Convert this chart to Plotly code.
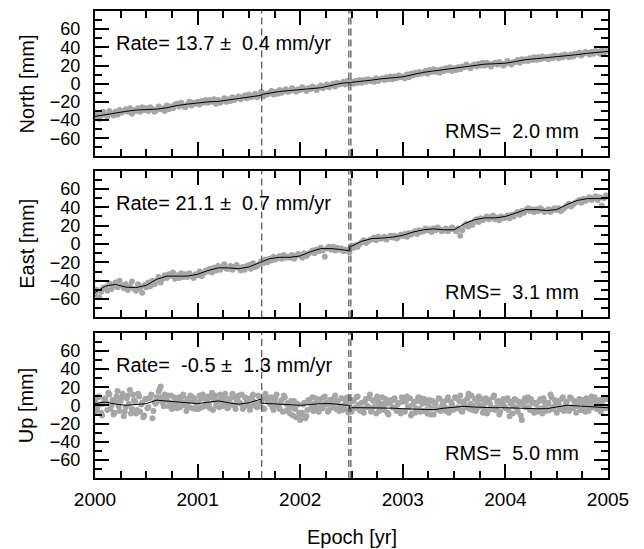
import plotly.graph_objects as go

# ---------------- data ----------------
obs_start = 2000.0
obs_step = 0.02
north_obs = [
 -37,-33,-39,-35,-31, -34,-36,-30,-33,-35, -31,-34,-29,-32,-30, -28,-31,-27,-33,-29, -30,-27,-31,-26,-29,
 -27,-30,-26,-28,-31, -29,-25,-28,-27,-30, -24,-28,-25,-27,-23, -22,-25,-21,-24,-26, -23,-20,-24,-21,-22,
 -20,-23,-19,-21,-18, -21,-18,-20,-17,-22, -18,-21,-19,-16,-20, -17,-19,-15,-18,-16, -14,-17,-15,-13,-16,
 -12,-15,-14,-11,-15, -13,-9,-14,-11,-12, -10,-8,-12,-9,-11, -7,-10,-8,-6,-9, -8,-5,-7,-9,-6,
 -7,-4,-6,-8,-5, -6,-3,-5,-7,-4, -2,-5,-3,-1,-4, -2,0,-3,1,-1, 0,2,-1,3,1,
 2,0,3,1,4, 1,4,2,5,3, 4,2,6,3,5, 6,4,7,5,8, 5,8,6,9,7,
 8,6,10,7,11, 9,12,10,13,11, 12,14,11,15,13, 16,13,15,12,16, 14,17,15,18,14,
 17,15,18,16,19, 18,21,19,17,20, 21,19,22,20,23, 20,23,21,19,22, 23,21,24,22,20,
 22,25,23,21,24, 24,26,23,27,25, 27,25,28,26,29, 26,29,27,30,28, 29,27,30,28,31,
 30,28,31,29,32, 31,29,32,30,33, 32,34,31,33,35, 34,32,35,33,36, 35,33,37,34,36,
]
east_obs = [
 -55,-50,-58,-52,-48, -47,-51,-43,-49,-45, -42,-47,-40,-45,-48, -44,-50,-46,-41,-49, -51,-44,-48,-53,-45,
 -47,-42,-46,-40,-44, -40,-36,-42,-38,-34, -37,-33,-35,-31,-38, -34,-37,-32,-36,-33, -36,-32,-35,-37,-33,
 -34,-30,-35,-32,-29, -30,-27,-31,-26,-29, -24,-28,-25,-22,-27, -27,-24,-28,-25,-23, -26,-29,-25,-28,-24,
 -23,-27,-21,-25,-24, -22,-19,-21,-17,-20, -16,-18,-14,-17,-15, -13,-16,-12,-15,-14, -15,-12,-16,-13,-11,
 -12,-15,-10,-13,-11, -9,-7,-10,-6,-8, -4,-7,-14,-5,-3, -6,-3,-7,-4,-6, -5,-8,-6,-7,-9,
 -2,-4,-1,-3,0, 2,4,1,3,5, 5,7,4,8,6, 6,8,5,7,9, 7,9,6,8,10,
 9,11,8,12,10, 12,14,11,15,13, 14,17,15,16,13, 17,15,18,16,14, 15,17,14,16,18,
 16,14,17,9,15, 20,22,19,23,21, 25,27,24,28,26, 28,30,27,29,31, 27,29,26,30,28,
 29,31,28,32,30, 33,35,32,36,34, 37,39,36,38,35, 38,36,39,37,35, 36,38,35,37,39,
 37,39,36,38,40, 42,44,41,43,45, 46,48,45,49,47, 49,51,48,50,52, 48,51,42,50,53,
]
up_obs = [
 5,-3,10,-8,2, 8,-5,12,0,-10, 4,16,-6,9,-12, -2,11,17,-4,6, -9,13,-7,3,-11,
 7,-2,10,-14,4, 9,15,21,3,12, 6,-1,11,2,8, -3,9,4,12,0, 7,-2,10,5,-4,
 3,11,-2,8,1, 10,-3,14,6,0, 5,12,-1,9,3, -2,8,13,0,6, 11,2,-4,9,5,
 7,-1,12,3,-2, 10,4,-3,13,6, 2,9,-5,7,0, -4,6,11,-6,3, -9,-2,5,-13,1,
 -16,-8,3,-12,6, -4,9,-1,4,-7, 7,-3,10,1,-5, 6,-2,11,3,-6, 8,0,-4,9,2,
 -7,5,-2,10,-5, 3,-8,7,-1,12, -3,6,-9,4,-1, 9,-5,2,-10,6, -2,8,-6,3,-9,
 4,-7,10,-2,-11, 1,-8,5,-4,8, -6,3,-9,6,-3, -10,2,-5,7,-1, 4,-6,9,-3,1,
 -4,8,-2,11,-7, 5,-1,13,2,-5, 7,-4,10,0,-8, 3,-9,6,-2,9, -5,4,-10,1,7,
 -3,8,-12,4,-1, 6,-7,2,-16,5, -2,9,-5,3,-8, 1,-4,7,-9,4, -6,3,12,-2,6,
 -8,1,-4,9,-2, 4,-6,8,-3,0, -1,7,-5,3,-7, 2,-3,10,-1,5, -4,6,-2,8,-3,
]
# second (interleaved) set of Up daily solutions, half a step later
up_obs_b = [
 -6,9,1,-11,7, 3,14,-4,6,-8, 10,-1,5,13,-7, 8,2,-9,12,4, -5,10,1,-13,7,
 -3,8,12,-6,2, 5,18,9,-1,7, 11,3,-4,9,1, 6,-2,10,3,-6, 4,11,-3,8,2,
 -4,7,12,-1,5, 2,9,-5,11,4, -2,8,3,13,-3, 7,1,10,-4,6, 3,12,-2,8,0,
 -5,9,4,-1,11, 2,7,-4,10,5, 8,-2,4,12,-1, 3,-7,9,1,-3, 5,-11,-4,2,-8,
 -10,1,-14,-5,4, 2,-6,8,-3,5, -1,9,3,-7,6, 1,8,-4,5,-2, -5,7,3,-8,4,
 6,-3,9,1,-6, -4,4,-2,8,-7, 5,-1,10,-6,2, -3,7,-8,3,5, 6,-4,1,-7,9,
 -6,5,-1,8,-9, 4,-3,9,-7,2, 7,-5,1,-10,5, 3,-4,8,-6,2, -2,6,-8,4,-5,
 9,-3,5,-6,2, -2,8,-4,11,0, -6,4,-1,7,-3, 8,-6,2,-4,11, -2,5,-7,3,-1,
 6,-5,2,-9,7, -3,4,-11,1,8, 5,-2,7,-6,3, -7,5,-3,8,-1, 2,-5,9,-4,1,
 5,-3,7,-6,2, -4,9,-2,5,-8, 3,-5,6,-1,8, -6,4,-2,9,-4, 2,-7,5,-3,7,
]
obs_epoch = [round(obs_start + i * obs_step, 3) for i in range(len(north_obs))]
obs_epoch_b = [round(obs_start + obs_step / 2 + i * obs_step, 3) for i in range(len(up_obs_b))]

model_epoch = [2000.0, 2000.1, 2000.2, 2000.3, 2000.4, 2000.5, 2000.6, 2000.7, 2000.8, 2000.9,
               2001.0, 2001.1, 2001.2, 2001.3, 2001.4, 2001.5, 2001.6, 2001.62, 2001.62, 2001.7, 2001.8, 2001.9,
               2002.0, 2002.1, 2002.2, 2002.3, 2002.4, 2002.48, 2002.48, 2002.5, 2002.6, 2002.7, 2002.8, 2002.9,
               2003.0, 2003.1, 2003.2, 2003.3, 2003.4, 2003.5, 2003.6, 2003.7, 2003.8, 2003.9,
               2004.0, 2004.1, 2004.2, 2004.3, 2004.4, 2004.5, 2004.6, 2004.7, 2004.8, 2004.9, 2005.0]
north_model = [-36, -34, -32.5, -30.5, -29, -28.5, -28, -26.5, -24, -22.5,
               -21, -20, -19.5, -18, -16, -14.5, -13, -12.8, -12, -10.5, -8.5, -7.5,
               -6.5, -5.5, -4.5, -2, 0.5, 1.2, 0.5, 1.5, 2.5, 4, 5.5, 6.5,
               7.5, 10, 12.5, 14, 15.5, 17, 19, 20.5, 21.5, 22,
               22.5, 24.5, 26.5, 27.5, 28.5, 29.5, 30.5, 32, 33.5, 34.5, 35.5]
east_model = [-53, -46, -44, -47, -47.5, -45, -38.5, -35, -35, -35,
              -33, -29, -26, -26, -27, -25, -20.5, -19.5, -19.5, -16, -14.5, -14.5,
              -13, -8.5, -5, -5, -6, -7.5, -3, -2.5, 3, 6, 6.5, 7.5,
              9.5, 13, 15.5, 16.5, 15.5, 15.5, 22, 26.5, 28.5, 28.5,
              30, 34, 37.5, 37.5, 36.5, 37.5, 43, 47.5, 49.5, 49.5, 49.5]
up_model = [2, 3.8, 1.5, 0.2, 1, 2, 5.8, 5, 4, 3,
            2, 3.5, 5, 3, 1.3, 3, 6.5, 7, 2.5, 2, 1.3, 0.8,
            0.2, 1, 2, 2, 1, 0, -4, -2.5, -2.5, -2.5, -2.5, -3,
            -3.6, -4, -4.5, -4.7, -3, -2, -1, -1.8, -2.5, -2.5,
            -2.5, -3, -3.6, -3.6, -3.6, -1.5, 0.2, -0.5, -1, -2, -2.5]

components = ["North", "East", "Up"]
rate_text = ["Rate= 13.7 \u00b1  0.4 mm/yr", "Rate= 21.1 \u00b1  0.7 mm/yr", "Rate=  -0.5 \u00b1  1.3 mm/yr"]
rms_text = ["RMS=  2.0 mm", "RMS=  3.1 mm", "RMS=  5.0 mm"]
event_epochs = [2001.625, 2002.474, 2002.494]
year_ticks = [2000, 2001, 2002, 2003, 2004, 2005]
y_ticks = [-60, -40, -20, 0, 20, 40, 60]

# ---------------- figure ----------------
obs_sets = [[(obs_epoch, north_obs)],
            [(obs_epoch, east_obs)],
            [(obs_epoch, up_obs), (obs_epoch_b, up_obs_b)]]
model_sets = [north_model, east_model, up_model]
domains = [[0.6887, 1.0], [0.3439, 0.6582], [0.0, 0.3107]]
FONT = "Liberation Sans, Arial, Helvetica, sans-serif"

fig = go.Figure()
# page body has an 8px margin: size the figure so that the plot lands where the reference has it
layout = dict(
    width=636, height=541,
    margin=dict(l=87, r=36, t=1, b=71),
    paper_bgcolor="white", plot_bgcolor="white",
    showlegend=False,
    font=dict(family=FONT, size=18, color="black"),
    shapes=[], annotations=[],
)

for i, comp in enumerate(components):
    n = i + 1
    xs = "x" if n == 1 else f"x{n}"
    ys = "y" if n == 1 else f"y{n}"
    xname = "xaxis" if n == 1 else f"xaxis{n}"
    yname = "yaxis" if n == 1 else f"yaxis{n}"
    for ex, vals in obs_sets[i]:
        fig.add_trace(go.Scatter(x=ex, y=vals, mode="markers",
                                 marker=dict(color="#a6a6a6", size=6, line=dict(width=0)),
                                 xaxis=xs, yaxis=ys, hoverinfo="skip"))
    fig.add_trace(go.Scatter(x=model_epoch, y=model_sets[i], mode="lines",
                             line=dict(color="black", width=1),
                             xaxis=xs, yaxis=ys, hoverinfo="skip"))
    layout[xname] = dict(
        domain=[0, 1], anchor=ys, range=[2000, 2005],
        tickvals=year_ticks, ticks="inside", ticklen=14, tickwidth=1.5, tickcolor="black",
        minor=dict(dtick=0.25, tick0=2000, ticks="inside", ticklen=7, tickwidth=1.5, tickcolor="black"),
        showline=True, linewidth=2, linecolor="black", mirror="ticks",
        showgrid=False, zeroline=False,
        showticklabels=(n == 3), ticklabelstandoff=3,
        tickfont=dict(size=19, family=FONT, color="black"),
    )
    if n != 1:
        layout[xname]["matches"] = "x"
    layout[yname] = dict(
        domain=domains[i], anchor=xs, range=[-80, 80],
        tickvals=y_ticks, ticks="inside", ticklen=14, tickwidth=1.5, tickcolor="black",
        minor=dict(dtick=10, tick0=0, ticks="inside", ticklen=7, tickwidth=1.5, tickcolor="black"),
        showline=True, linewidth=2, linecolor="black", mirror="ticks",
        showgrid=False, zeroline=False, ticklabelstandoff=9,
        tickfont=dict(size=18, family=FONT, color="black"),
    )
    for k, ev in enumerate(event_epochs):
        layout["shapes"].append(dict(type="line", xref=xs, yref=f"{ys} domain",
                                     x0=ev, x1=ev, y0=0, y1=1,
                                     line=dict(color="#505050", width=1.2, dash="7px,4px")))
    layout["annotations"].append(dict(text=rate_text[i].replace("  ", "\u00a0\u00a0"),
                                      xref=xs, yref=ys, x=2000.19, y=45,
                                      xanchor="left", yanchor="middle", showarrow=False,
                                      font=dict(size=20, family=FONT, color="black")))
    layout["annotations"].append(dict(text=rms_text[i].replace("  ", "\u00a0\u00a0"),
                                      xref=xs, yref=ys, x=2004.74, y=-52,
                                      xanchor="right", yanchor="middle", showarrow=False,
                                      font=dict(size=20, family=FONT, color="black")))
    layout["annotations"].append(dict(text=f"{comp} [mm]", textangle=-90,
                                      xref="paper", yref="paper",
                                      x=-0.133, y=(domains[i][0] + domains[i][1]) / 2,
                                      xanchor="center", yanchor="middle", showarrow=False,
                                      font=dict(size=20, family=FONT, color="black")))

layout["annotations"].append(dict(text="Epoch [yr]", xref="paper", yref="paper",
                                  x=0.5, y=-0.1258, xanchor="center", yanchor="middle",
                                  showarrow=False, font=dict(size=20, family=FONT, color="black")))

fig.update_layout(**layout)
fig.write_html("out.html")
